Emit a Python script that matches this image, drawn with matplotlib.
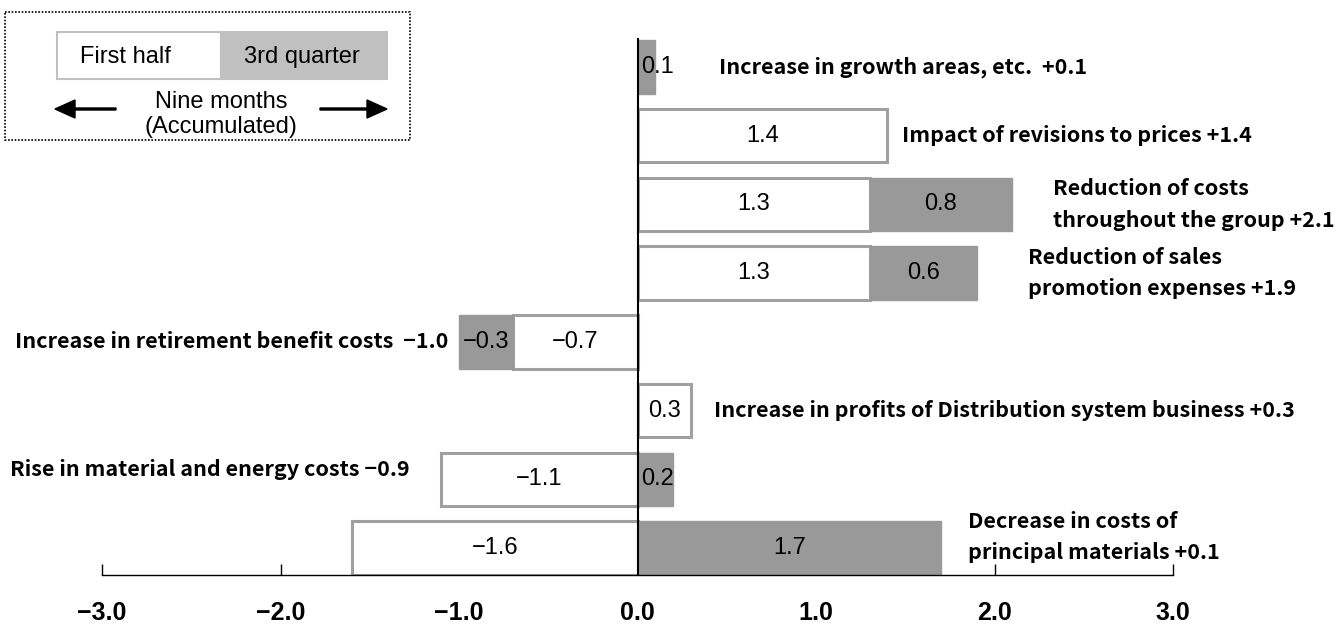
import matplotlib
matplotlib.use("Agg")
import matplotlib.pyplot as plt
from matplotlib.patches import Rectangle, FancyArrow

# datos (de arriba hacia abajo)
primer_semestre = [0.0, 1.4, 1.3, 1.3, -0.7, 0.3, -1.1, -1.6]
tercer_trimestre = [0.1, 0.0, 0.8, 0.6, -0.3, 0.0, 0.2, 1.7]
etiquetas = [
    "Increase in growth areas, etc.  +0.1",
    "Impact of revisions to prices +1.4",
    "Reduction of costs\nthroughout the group +2.1",
    "Reduction of sales\npromotion expenses +1.9",
    "Increase in retirement benefit costs  \u22121.0",
    "Increase in profits of Distribution system business +0.3",
    "Rise in material and energy costs \u22120.9",
    "Decrease in costs of\nprincipal materials +0.1",
]
ticks_x = [-3.0, -2.0, -1.0, 0.0, 1.0, 2.0, 3.0]

# posicion de cada etiqueta (x en datos, desplazamiento y, alineacion)
pos_etiquetas = [
    (0.454, 0.0, "left"),
    (1.479, 0.0, "left"),
    (2.33, 0.0, "left"),
    (2.185, 0.0, "left"),
    (-1.059, 0.0, "right"),
    (0.426, 0.0, "left"),
    (-3.513, 0.15, "left"),
    (1.854, 0.16, "left"),
]

JAPONESA = ["Noto Sans CJK JP", "DejaVu Sans"]
NORMAL = ["Liberation Sans", "DejaVu Sans"]
GRIS = "#999999"


def fmt(v):
    s = f"{abs(v):.1f}"
    return ("\u2212" + s) if v < 0 else s


W, H = 1338, 630
fig = plt.figure(figsize=(W / 100, H / 100), dpi=100)
ax = fig.add_axes([102 / W, 1 - 575 / H, (1173 - 102) / W, (575 - 38) / H])

n = len(primer_semestre)
ys = [n - 1 - i for i in range(n)]
alto = 0.78

for i, y in enumerate(ys):
    a = primer_semestre[i]
    b = tercer_trimestre[i]
    if a != 0:
        ax.barh(y, a, left=0, height=alto, color="white", edgecolor="#a0a0a0", linewidth=2.2, zorder=2)
        ax.text(a / 2, y, fmt(a), ha="center", va="center", fontsize=17, family=NORMAL, zorder=5)
    if b != 0:
        inicio = a if (a * b > 0) else 0
        ax.barh(y, b, left=inicio, height=alto, color=GRIS, edgecolor=GRIS, linewidth=1, zorder=2)
        if abs(b) < 0.3:
            ax.text(inicio + 0.02, y, fmt(b), ha="left", va="center", fontsize=17, family=NORMAL, zorder=5)
        else:
            ax.text(inicio + b / 2, y, fmt(b), ha="center", va="center", fontsize=17, family=NORMAL, zorder=5)
    px, dy, ha = pos_etiquetas[i]
    ax.text(px, y + dy, etiquetas[i], ha=ha, va="center", fontsize=15.5, family=JAPONESA,
            fontweight="bold", linespacing=1.62, clip_on=False, zorder=5)

ax.axvline(0, color="black", linewidth=1.5, zorder=4)
ax.set_xlim(-3, 3)
ax.set_ylim(-0.39, n - 1 + 0.42)
ax.set_xticks(ticks_x)
ax.set_xticklabels([fmt(t) for t in ticks_x], fontsize=18, family=NORMAL, fontweight="bold")
ax.tick_params(axis="x", direction="in", length=8, width=1, pad=19)
ax.set_yticks([])
for lado in ["top", "right", "left"]:
    ax.spines[lado].set_visible(False)
ax.spines["bottom"].set_linewidth(1)

# leyenda dibujada a mano en pixeles
lg = fig.add_axes([0, 0, 1, 1])
lg.set_xlim(0, W)
lg.set_ylim(H, 0)
lg.axis("off")
lg.add_patch(Rectangle((5, 12), 405, 128, fill=False, edgecolor="black", linestyle=(0, (1, 1)), linewidth=1.2))
lg.add_patch(Rectangle((57, 32), 164, 47, facecolor="white", edgecolor="#c0c0c0", linewidth=1.5))
lg.add_patch(Rectangle((221, 32), 166, 47, facecolor="#c0c0c0", edgecolor="#c0c0c0", linewidth=1.5))
lg.text(125, 57, "First half", ha="center", va="center", fontsize=17, family=NORMAL)
lg.text(302, 57, "3rd quarter", ha="center", va="center", fontsize=17, family=NORMAL)
lg.text(221, 102, "Nine months", ha="center", va="center", fontsize=17, family=NORMAL)
lg.text(221, 127, "(Accumulated)", ha="center", va="center", fontsize=17, family=NORMAL)
lg.add_patch(FancyArrow(116, 109, -41, 0, width=2, head_width=18, head_length=20,
                        length_includes_head=False, color="black"))
lg.add_patch(FancyArrow(320, 109, 47, 0, width=2, head_width=18, head_length=20,
                        length_includes_head=False, color="black"))

fig.savefig("out.png", dpi=100)
